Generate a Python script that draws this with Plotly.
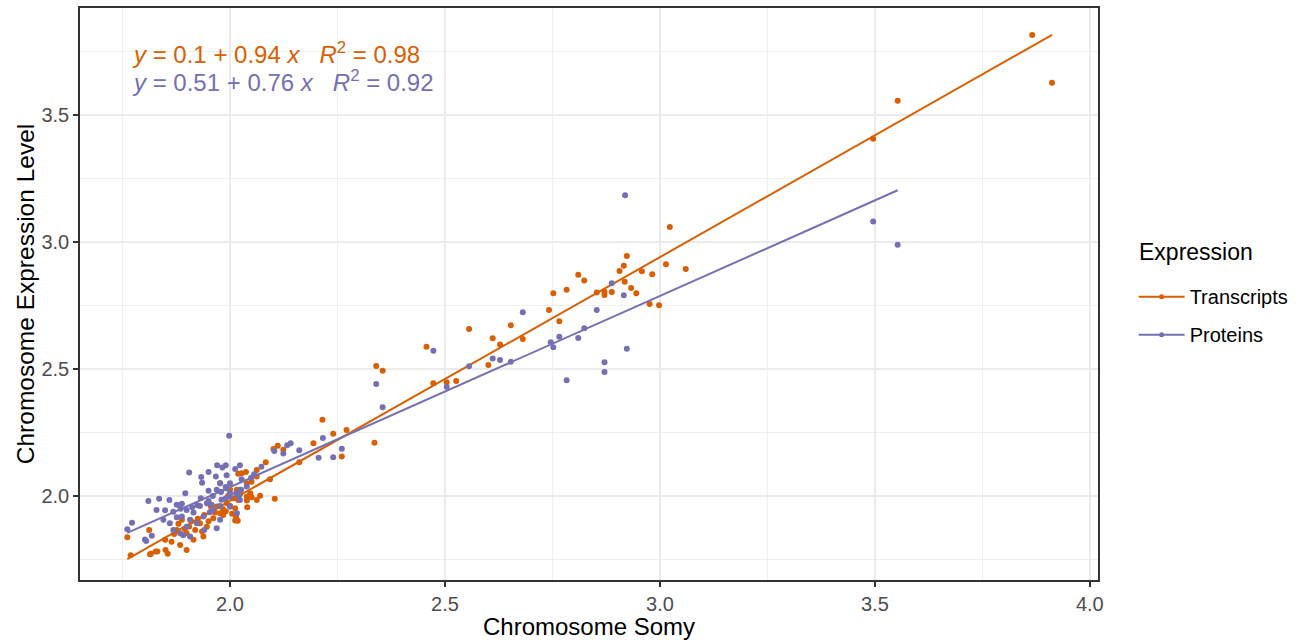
import numpy as np
import plotly.graph_objects as go

# ---------------- data ----------------
transcripts_x = [
    2.062, 2.083, 2.101, 2.111, 2.124, 2.161, 2.194, 2.215, 2.240, 2.260, 2.271, 2.336,
    2.340, 2.355, 2.457, 2.473, 2.504, 2.526, 2.556, 2.601, 2.611, 2.628, 2.653, 2.681,
    2.742, 2.752, 2.766, 2.783, 2.810, 2.824, 2.853, 2.871, 2.871, 2.888, 2.906, 2.916,
    2.923, 2.918, 2.933, 2.945, 2.958, 2.976, 2.982, 2.998, 3.014, 3.023, 3.060, 3.496,
    3.553, 3.866, 3.912,
    1.761, 1.769, 1.814, 1.827, 1.850, 1.855, 1.812, 1.849, 1.876, 1.864, 1.899, 1.919,
    1.888, 1.930, 1.946, 1.961, 1.957, 1.977, 1.984, 1.969, 1.992, 2.008, 2.019, 2.016,
    2.023, 2.039, 2.047, 2.050, 2.062, 2.014, 2.018, 1.977, 2.000, 2.039, 2.027, 2.062,
    2.037, 1.915, 1.938, 1.884, 1.899, 2.019, 2.093, 2.050, 2.022, 2.039, 2.070, 2.104,
    2.040, 2.012, 2.012, 1.984, 1.831, 1.816, 1.905, 1.925, 1.940, 1.950, 1.965, 1.935,
    1.895, 1.870, 1.880, 1.955, 1.990, 2.000, 1.995, 2.005, 1.910,
]
transcripts_y = [
    2.102, 2.133, 2.185, 2.198, 2.182, 2.133, 2.207, 2.300, 2.245, 2.155, 2.260, 2.209,
    2.512, 2.493, 2.587, 2.444, 2.448, 2.452, 2.657, 2.515, 2.621, 2.596, 2.672, 2.618,
    2.732, 2.798, 2.688, 2.812, 2.871, 2.848, 2.801, 2.791, 2.804, 2.803, 2.886, 2.906,
    2.945, 2.843, 2.819, 2.798, 2.885, 2.756, 2.873, 2.751, 2.912, 3.059, 2.893, 3.406,
    3.556, 3.815, 3.627,
    1.837, 1.766, 1.770, 1.781, 1.787, 1.772, 1.866, 1.827, 1.866, 1.820, 1.853, 1.866,
    1.906, 1.892, 1.879, 1.912, 1.945, 1.932, 1.948, 1.958, 1.971, 1.991, 1.984, 2.024,
    2.007, 1.982, 2.011, 1.995, 1.984, 1.915, 1.902, 2.050, 2.024, 2.050, 2.089, 2.076,
    2.094, 1.827, 1.840, 1.807, 1.787, 2.087, 2.066, 2.056, 2.008, 1.997, 2.001, 1.989,
    1.955, 1.951, 1.903, 1.925, 1.781, 1.772, 1.880, 1.910, 1.925, 1.900, 1.935, 1.860,
    1.870, 1.850, 1.890, 1.960, 1.940, 1.960, 2.000, 1.930, 1.900,
]

proteins_x = [
    2.056, 2.103, 2.124, 2.133, 2.141, 2.161, 2.206, 2.216, 2.240, 2.260, 2.340, 2.355,
    2.473, 2.504, 2.556, 2.611, 2.628, 2.653, 2.681, 2.746, 2.752, 2.766, 2.783, 2.810,
    2.824, 2.853, 2.871, 2.871, 2.888, 2.916, 2.919, 2.923, 3.496, 3.553,
    1.998, 1.905, 1.950, 1.933, 1.935, 1.970, 1.990, 1.982, 1.992, 2.023, 2.012, 1.896,
    1.810, 1.835, 1.859, 1.772, 1.761, 1.818, 1.802, 1.829, 1.849, 1.868, 1.876, 1.888,
    1.876, 1.888, 1.899, 1.912, 1.924, 1.932, 1.946, 1.957, 1.969, 1.979, 1.992, 2.000,
    2.014, 2.026, 2.039, 1.907, 1.899, 1.923, 1.938, 1.953, 1.907, 1.891, 1.940, 1.845,
    1.860, 1.868, 1.977, 1.967, 2.073, 2.049, 2.027, 2.000, 1.990, 1.950, 2.000, 2.023,
    2.023, 2.000, 1.990, 2.016, 1.977, 1.950, 1.930, 1.977, 1.969, 2.020, 1.960, 1.915,
    1.885, 1.960, 1.980, 1.805, 1.884,
]
proteins_y = [
    2.085, 2.177, 2.167, 2.200, 2.207, 2.180, 2.150, 2.228, 2.152, 2.186, 2.441, 2.349,
    2.572, 2.430, 2.511, 2.541, 2.535, 2.528, 2.723, 2.605, 2.585, 2.627, 2.455, 2.622,
    2.660, 2.732, 2.526, 2.488, 2.837, 2.790, 3.184, 2.579, 3.080, 2.989,
    2.237, 2.092, 2.094, 2.075, 2.052, 2.121, 2.121, 2.112, 2.081, 2.121, 2.106, 2.011,
    1.980, 1.989, 1.984, 1.894, 1.869, 1.843, 1.828, 1.945, 1.944, 1.938, 1.965, 1.969,
    1.916, 1.919, 1.945, 1.955, 1.963, 1.991, 1.971, 1.965, 2.024, 2.015, 2.029, 1.997,
    2.011, 2.024, 2.037, 1.906, 1.879, 1.892, 1.919, 1.936, 1.840, 1.845, 1.866, 1.906,
    1.892, 1.866, 2.050, 2.076, 2.115, 2.072, 2.066, 2.050, 2.035, 2.020, 2.010, 2.024,
    1.984, 1.958, 1.990, 1.932, 1.960, 1.980, 1.960, 1.906, 1.873, 2.000, 2.000, 1.935,
    1.950, 1.945, 1.985, 1.823, 1.853,
]

series_names = ["Transcripts", "Proteins"]
legend_title = "Expression"
equation_labels = [
    "<i>y</i> = 0.1 + 0.94 <i>x</i>   <i>R</i><sup>2</sup> = 0.98",
    "<i>y</i> = 0.51 + 0.76 <i>x</i>   <i>R</i><sup>2</sup> = 0.92",
]
x_tick_vals = [2.0, 2.5, 3.0, 3.5, 4.0]
x_tick_text = ["2.0", "2.5", "3.0", "3.5", "4.0"]
y_tick_vals = [2.0, 2.5, 3.0, 3.5]
y_tick_text = ["2.0", "2.5", "3.0", "3.5"]

colors = ["#D95F02", "#7570B3"]
FONT = "Liberation Sans, Arial, sans-serif"

fig = go.Figure()
datasets = [(transcripts_x, transcripts_y), (proteins_x, proteins_y)]

for i, ((xs, ys), name, col) in enumerate(zip(datasets, series_names, colors)):
    xs = np.array(xs)
    ys = np.array(ys)
    fig.add_trace(go.Scatter(x=xs, y=ys, mode="markers",
                             marker=dict(color=col, size=6, line=dict(width=0)),
                             showlegend=False, hoverinfo="skip"))
    slope, intercept = np.polyfit(xs, ys, 1)
    lx = np.array([xs.min(), xs.max()])
    fig.add_trace(go.Scatter(x=lx, y=intercept + slope * lx, mode="lines",
                             line=dict(color=col, width=2), showlegend=False))
    # legend entry
    fig.add_trace(go.Scatter(x=[None], y=[None], mode="lines+markers", name=name,
                             legendgroup=f"g{i}",
                             line=dict(color=col, width=2),
                             marker=dict(color=col, size=5)))

for i, (lab, col) in enumerate(zip(equation_labels, colors)):
    fig.add_annotation(text=lab, xref="paper", yref="paper",
                       x=0.049, y=0.922 - i * 0.049, xanchor="left", yanchor="middle",
                       showarrow=False, font=dict(family=FONT, size=24, color=col))

# legend title placed as text above the legend entries
fig.add_annotation(text=legend_title, xref="paper", yref="paper",
                   x=1.038, y=0.573, xanchor="left", yanchor="middle",
                   showarrow=False, font=dict(family=FONT, size=23, color="black"))

axis_common = dict(
    showline=True, linecolor="#333333", linewidth=1.5, mirror=True,
    ticks="outside", ticklen=5, tickcolor="#333333", tickwidth=1.5,
    showgrid=True, gridcolor="#EBEBEB", gridwidth=1.6, zeroline=False,
    tickfont=dict(family=FONT, size=20, color="#4D4D4D"),
    automargin=False,
)

fig.update_xaxes(**axis_common, range=[1.651, 4.019], tickvals=x_tick_vals, ticktext=x_tick_text,
                 minor=dict(dtick=0.25, tick0=0, showgrid=True, gridcolor="#EFEFEF",
                            gridwidth=1, ticks=""),
                 title=dict(text="Chromosome Somy", font=dict(family=FONT, size=24, color="black"),
                            standoff=5))
fig.update_yaxes(**axis_common, range=[1.669, 3.921], tickvals=y_tick_vals, ticktext=y_tick_text,
                 minor=dict(dtick=0.25, tick0=0, showgrid=True, gridcolor="#EFEFEF",
                            gridwidth=1, ticks=""),
                 title=dict(text="Chromosome Expression Level",
                            font=dict(family=FONT, size=24.5, color="black"), standoff=0))

fig.update_layout(
    width=1303, height=640,
    margin=dict(l=80, r=205, t=8, b=60),
    plot_bgcolor="white", paper_bgcolor="white",
    font=dict(family=FONT),
    legend=dict(x=1.035, y=0.5295, xanchor="left", yanchor="top",
                font=dict(family=FONT, size=20, color="black"),
                traceorder="grouped", tracegroupgap=9, itemwidth=46),
)

fig.write_html("out.html", config={"displayModeBar": False},
               post_script="document.body.style.margin='0';")
